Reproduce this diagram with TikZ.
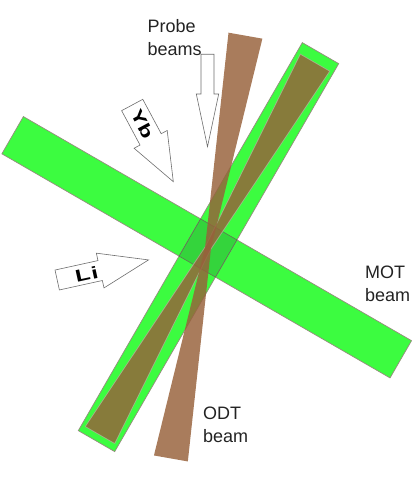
\documentclass[tikz,border=0pt]{standalone}
\usepackage{fontspec}
\setmainfont{Liberation Sans}
\usetikzlibrary{calc}
\definecolor{beamgreen}{RGB}{60,252,64}
\definecolor{overlapgreen}{RGB}{52,212,60}
\definecolor{odtbrown}{RGB}{151,97,59}
\definecolor{edgegray}{RGB}{150,140,125}
\definecolor{arrowgray}{RGB}{110,110,110}
\definecolor{labelgray}{RGB}{35,35,35}
\begin{document}
\begin{tikzpicture}[x=1bp,y=1bp,
  greenbeam/.style={fill=beamgreen, draw=edgegray, line width=0.7bp},
  overlapsq/.style={fill=overlapgreen, draw=edgegray!70!black, line width=0.5bp},
  odtbeam/.style={fill=odtbrown, fill opacity=0.83, draw=none},
  odtin/.style={fill=odtbrown, fill opacity=0.83, draw=edgegray!60, draw opacity=0.6, line width=0.8bp},
  hollowarrow/.style={fill=white, draw=arrowgray, line width=0.6bp, line join=miter},
  beamlabel/.style={inner sep=0, anchor=north west, align=left, text=labelgray, font=\fontsize{18bp}{22.7bp}\selectfont},
  arrowlabel/.style={inner sep=0, transform shape, font=\fontsize{17bp}{20bp}\selectfont\bfseries}]
\useasboundingbox (0,0) rectangle (415,482);
\coordinate (C) at (208,234);
% MOT beam
\begin{scope}[shift={(C)}, rotate=-30]
  \draw[greenbeam] (-225.6,-21.5) rectangle (222.6,21.5);
\end{scope}
% diagonal green beam
\begin{scope}[shift={(C)}, rotate=60]
  \draw[greenbeam] (-223,-21) rectangle (225,21);
\end{scope}
% overlap square
\begin{scope}[shift={(C)}, rotate=-30]
  \draw[overlapsq] (-21,-21.5) rectangle (21,21.5);
\end{scope}
% ODT hourglass inside the diagonal beam
\begin{scope}[shift={(C)}, rotate=60]
  \filldraw[odtin] (-216,-17) -- (0,-3) -- (214,-17) -- (214,17) -- (0,3) -- (-216,17) -- cycle;
\end{scope}
% near-vertical ODT beam
\begin{scope}[shift={(C)}, rotate=80]
  \fill[odtbeam] (-213.7,-17.2) -- (0,-3) -- (215.6,-17.2) -- (215.6,17.2) -- (0,3) -- (-213.7,17.2) -- cycle;
\end{scope}
% Li arrow
\begin{scope}[shift={(57.2,202)}, rotate=12.4]
  \draw[hollowarrow] (0,-10.2) -- (44,-10.2) -- (44,-17.8) -- (93.5,0) -- (44,17.8) -- (44,10.2) -- (0,10.2) -- cycle;
  \node[arrowlabel] (li) at (30,-0.5) {\scalebox{1.45}[1]{L\kern1bp i}};
\end{scope}
% Yb arrow
\begin{scope}[shift={(132.2,377)}, rotate=-61.8]
  \draw[hollowarrow] (0,-12) -- (39,-12) -- (39,-18.8) -- (87,0) -- (39,18.8) -- (39,12) -- (0,12) -- cycle;
  \node[arrowlabel] (yb) at (22,0) {\scalebox{1.4}[1]{Yb}};
\end{scope}
% Probe arrow
\begin{scope}[shift={(207.5,427.7)}, rotate=-90]
  \draw[hollowarrow] (0,-6.5) -- (39.7,-6.5) -- (39.7,-11.2) -- (92.4,0) -- (39.7,11.2) -- (39.7,6.5) -- (0,6.5) -- cycle;
\end{scope}
% labels
\node[beamlabel] (probe) at (147.5,462.5) {Probe\\beams};
\node[beamlabel] (mot) at (365,216) {MOT\\beam};
\node[beamlabel] (odt) at (203,75) {ODT\\beam};
\end{tikzpicture}
\end{document}
